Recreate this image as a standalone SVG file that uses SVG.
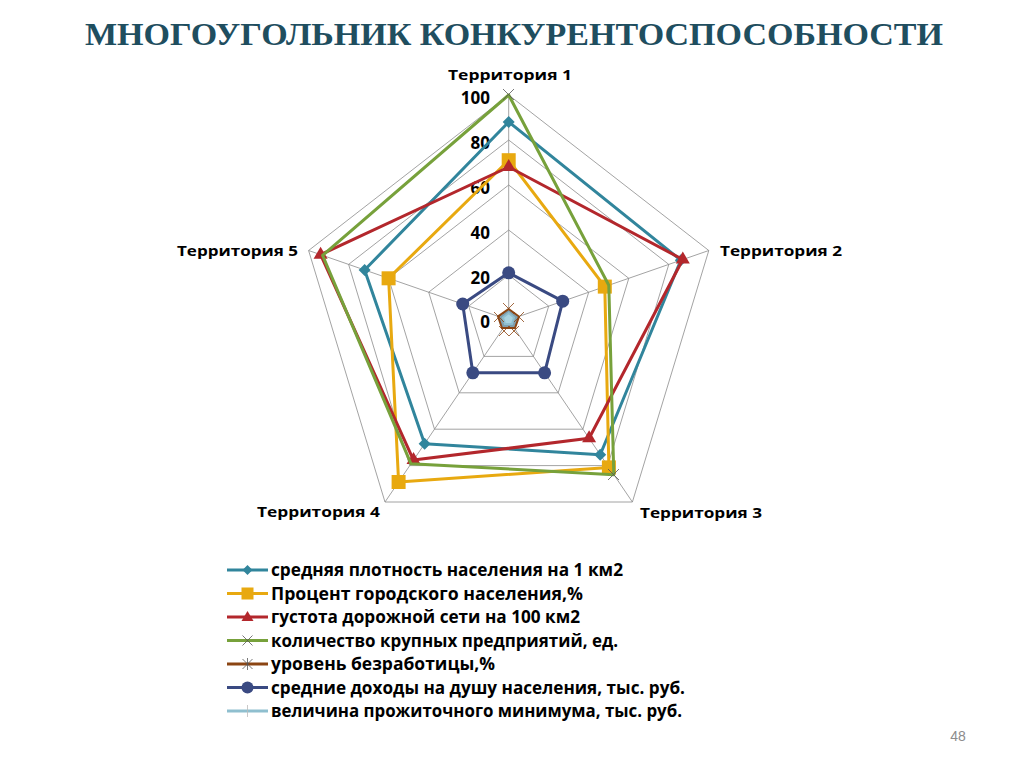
<svg xmlns="http://www.w3.org/2000/svg" width="1024" height="767" viewBox="0 0 1024 767">
<style>
.grid{fill:none;stroke:#8c8c8c;stroke-width:0.8}
.ax{font-family:"Open Sans","Noto Sans",sans-serif;font-weight:bold;font-size:17px;fill:#000;text-anchor:end}
.terr{font-family:"Open Sans","Noto Sans",sans-serif;font-weight:bold;font-size:15px;fill:#000}
.leg{font-family:"Open Sans","Noto Sans",sans-serif;font-weight:bold;font-size:17px;fill:#000}
.s{fill:none;stroke-width:3;stroke-linejoin:round}
</style>
<rect width="1024" height="767" fill="#fff"/>
<text x="514" y="45" text-anchor="middle" font-family="'Liberation Serif',serif" font-weight="bold" font-size="32" fill="#1f4e5f" textLength="858" lengthAdjust="spacingAndGlyphs">МНОГОУГОЛЬНИК КОНКУРЕНТОСПОСОБНОСТИ</text>
<g id="grid">
<polygon class="grid" points="508.7,95 708.8,250.5 632.4,502 385,502 308.6,250.5"/>
<polygon class="grid" points="508.7,140 668.8,264.4 607.7,465.6 409.7,465.6 348.6,264.4"/>
<polygon class="grid" points="508.7,185 628.8,278.3 582.9,429.2 434.5,429.2 388.6,278.3"/>
<polygon class="grid" points="508.7,230 588.7,292.2 558.2,392.8 459.2,392.8 428.7,292.2"/>
<polygon class="grid" points="508.7,275 548.7,306.1 533.4,356.4 484,356.4 468.7,306.1"/>
<path class="grid" d="M508.7,320L508.7,95M508.7,320L708.8,250.5M508.7,320L632.4,502M508.7,320L385,502M508.7,320L308.6,250.5"/>
<text class="ax" x="490" y="104">100</text>
<text class="ax" x="490" y="149">80</text>
<text class="ax" x="490" y="194">60</text>
<text class="ax" x="490" y="239">40</text>
<text class="ax" x="490" y="284">20</text>
<text class="ax" x="490" y="328">0</text>
</g>
<g id="labels">
<text class="terr" x="448" y="80" textLength="124" lengthAdjust="spacingAndGlyphs">Территория 1</text>
<text class="terr" x="720" y="256" textLength="122" lengthAdjust="spacingAndGlyphs">Территория 2</text>
<text class="terr" x="640" y="518" textLength="122" lengthAdjust="spacingAndGlyphs">Территория 3</text>
<text class="terr" x="257" y="517" textLength="123" lengthAdjust="spacingAndGlyphs">Территория 4</text>
<text class="terr" x="177" y="256" textLength="121" lengthAdjust="spacingAndGlyphs">Территория 5</text>
</g>
<g id="series">
<polygon class="s" stroke="#31859c" points="508.7,122 680.8,260.2 600.2,454.7 424.6,443.8 364.6,270"/>
<g fill="#31859c"><path d="M508.7,116l6,6l-6,6l-6,-6z"/><path d="M680.8,254.2l6,6l-6,6l-6,-6z"/><path d="M600.2,448.7l6,6l-6,6l-6,-6z"/><path d="M424.6,437.8l6,6l-6,6l-6,-6z"/><path d="M364.6,264l6,6l-6,6l-6,-6z"/></g>
<polygon class="s" stroke="#e8a910" points="508.7,160.2 604.8,286.6 608.9,467.4 398.6,482 388.6,278.3"/>
<g fill="#e8a910"><rect x="501.7" y="153.2" width="14" height="14"/><rect x="597.8" y="279.6" width="14" height="14"/><rect x="601.9" y="460.4" width="14" height="14"/><rect x="391.6" y="475" width="14" height="14"/><rect x="381.6" y="271.3" width="14" height="14"/></g>
<polygon class="s" stroke="#b3272c" points="508.7,167 682.8,259.5 589.1,438.3 413.5,460.1 320.6,254.7"/>
<g fill="#b3272c"><path d="M508.7,159l7,12h-14z"/><path d="M682.8,251.5l7,12h-14z"/><path d="M589.1,430.3l7,12h-14z"/><path d="M413.5,452.1l7,12h-14z"/><path d="M320.6,246.7l7,12h-14z"/></g>
<polygon class="s" stroke="#77a13b" points="508.7,95 608.8,285.3 613.8,474.7 411,463.8 322.6,255.4"/>
<path stroke="#555" stroke-width="0.8" d="M503,89l11,11m0,-11l-11,11M608,469l11,11m0,-11l-11,11"/>
<polygon class="s" stroke="#3a4a82" points="508.7,272.8 562.7,301.2 544.6,372.8 472.8,372.8 462.7,304"/>
<g fill="#3a4a82"><circle cx="508.7" cy="272.8" r="6.5"/><circle cx="562.7" cy="301.2" r="6.5"/><circle cx="544.6" cy="372.8" r="6.5"/><circle cx="472.8" cy="372.8" r="6.5"/><circle cx="462.7" cy="304" r="6.5"/></g>
<polygon fill="#7f9fae" stroke="#8b4513" stroke-width="2" points="508.7,309 519,316.5 515,328 502,328 498,316.5"/>
<polygon fill="#a9d3e0" stroke="#8fbfcf" stroke-width="2" points="508.7,313 514,317.5 512,324 505,324 503,317.5"/>
<path stroke="#8b4513" stroke-width="0.8" d="M503,303l11,11m0,-11l-11,11M514,312l10,10m0,-10l-10,10M494,312l10,10m0,-10l-10,10M499,326l10,10m0,-10l-10,10M509,326l10,10m0,-10l-10,10"/>
</g>
<g id="legend">
<line x1="227" y1="570" x2="268" y2="570" stroke="#31859c" stroke-width="3"/><path fill="#31859c" d="M247.5,565l5,5l-5,5l-5,-5z"/>
<text class="leg" x="271" y="576" textLength="352" lengthAdjust="spacingAndGlyphs">средняя плотность населения на 1 км2</text>
<line x1="227" y1="593.5" x2="268" y2="593.5" stroke="#e8a910" stroke-width="3"/><rect x="241.5" y="587.5" width="12" height="12" fill="#e8a910"/>
<text class="leg" x="271" y="599.5" textLength="312" lengthAdjust="spacingAndGlyphs">Процент городского населения,%</text>
<line x1="227" y1="617" x2="268" y2="617" stroke="#b3272c" stroke-width="3"/><path fill="#b3272c" d="M247.5,611l6,10h-12z"/>
<text class="leg" x="271" y="623" textLength="309" lengthAdjust="spacingAndGlyphs">густота дорожной сети на 100 км2</text>
<line x1="227" y1="640.5" x2="268" y2="640.5" stroke="#77a13b" stroke-width="3"/><path stroke="#555" stroke-width="0.8" d="M242.5,635.5l10,10m0,-10l-10,10"/>
<text class="leg" x="271" y="646.5" textLength="347" lengthAdjust="spacingAndGlyphs">количество крупных предприятий, ед.</text>
<line x1="227" y1="664" x2="268" y2="664" stroke="#8b4513" stroke-width="3"/><path stroke="#555" stroke-width="0.8" d="M242.5,659l10,10m0,-10l-10,10M247.5,658v12"/>
<text class="leg" x="271" y="670" textLength="224" lengthAdjust="spacingAndGlyphs">уровень безработицы,%</text>
<line x1="227" y1="687.5" x2="268" y2="687.5" stroke="#3a4a82" stroke-width="3"/><circle cx="247.5" cy="687.5" r="6" fill="#3a4a82"/>
<text class="leg" x="271" y="693.5" textLength="414" lengthAdjust="spacingAndGlyphs">средние доходы на душу населения, тыс. руб.</text>
<line x1="227" y1="711" x2="268" y2="711" stroke="#8fbfcf" stroke-width="3"/><path stroke="#bbb" stroke-width="0.8" d="M247.5,705v12"/>
<text class="leg" x="271" y="717" textLength="411" lengthAdjust="spacingAndGlyphs">величина прожиточного минимума, тыс. руб.</text>
</g>
<text x="958" y="741" text-anchor="middle" font-family="'Liberation Sans',sans-serif" font-size="14" fill="#8c8c8c">48</text>
</svg>
